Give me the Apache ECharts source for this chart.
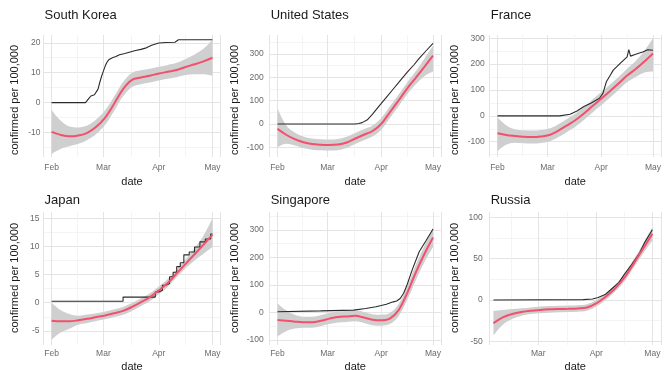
<!DOCTYPE html>
<html><head><meta charset="utf-8">
<script src="https://cdn.jsdelivr.net/npm/echarts@6/dist/echarts.min.js"></script>
<style>html,body{margin:0;padding:0;background:#fff}#c{width:672px;height:370px}</style>
</head><body><div id="c"></div>
<script>
// ---------------- DATA ----------------
const countries = ['South Korea', 'United States', 'France', 'Japan', 'Singapore', 'Russia'];
const fitDates = ['2020-02-01','2020-02-06','2020-02-11','2020-02-16','2020-02-21','2020-02-26','2020-03-02','2020-03-07','2020-03-12','2020-03-17','2020-03-22','2020-03-27','2020-04-01','2020-04-06','2020-04-11','2020-04-16','2020-04-21','2020-04-26','2020-05-01'];
const fitDatesRussia = ['2020-02-06','2020-02-11','2020-02-16','2020-02-21','2020-02-26','2020-03-02','2020-03-07','2020-03-12','2020-03-17','2020-03-22','2020-03-27','2020-04-01','2020-04-06','2020-04-11','2020-04-16','2020-04-21','2020-04-26','2020-05-01'];

const skFit   = [-9.8,-10.8,-11.3,-11.0,-10.1,-8.1,-5.0,-0.4,4.5,7.6,8.4,9.0,9.7,10.3,10.9,11.9,12.8,13.8,15.0];
const skLower = [-17.2,-15.5,-14.6,-13.8,-12.5,-10.5,-7.4,-2.8,2.1,5.2,6.1,6.7,7.4,8.0,8.5,9.2,9.5,9.5,9.0];
const skUpper = [-2.4,-6.0,-8.0,-8.3,-7.7,-5.7,-2.6,2.0,6.9,10.0,10.8,11.3,12.0,12.6,13.3,14.6,16.1,18.0,21.0];
const skActDates = ['2020-02-01','2020-02-20','2020-02-22','2020-02-23','2020-02-25','2020-02-27','2020-02-28','2020-02-29','2020-03-01','2020-03-02','2020-03-03','2020-03-04','2020-03-06','2020-03-08','2020-03-10','2020-03-13','2020-03-16','2020-03-19','2020-03-22','2020-03-25','2020-03-28','2020-04-01','2020-04-05','2020-04-10','2020-04-12','2020-05-01'];
const skAct = [0,0,1.5,2.2,2.6,4.5,6.8,8.8,10.5,12.2,13.5,14.3,15.0,15.4,16.0,16.4,16.9,17.4,17.8,18.3,19.2,19.9,20.1,20.2,21.0,21.0];

const usFit   = [-21,-46,-65,-78,-86,-89,-90,-88,-79,-62,-46,-30,0,50,100,152,198,245,293];
const usLower = [-100,-85,-92,-103,-110,-113,-114,-112,-103,-86,-70,-54,-25,25,75,126,170,205,225];
const usUpper = [68,-5,-36,-53,-62,-65,-66,-64,-55,-38,-22,-6,25,75,125,178,226,280,335];
const usActDates = ['2020-02-01','2020-03-17','2020-03-19','2020-03-21','2020-03-24','2020-03-27','2020-03-31','2020-04-04','2020-04-08','2020-04-12','2020-04-16','2020-04-20','2020-04-23','2020-04-27','2020-05-01'];
const usAct = [0,0,2,6,18,42,79,114,150,186,221,254,281,314,346];

const frFit   = [-67,-74,-78,-81,-82,-80,-74,-58,-38,-17,9,38,66,95,125,156,181,210,241];
const frLower = [-137,-112,-104,-106,-107,-105,-99,-83,-63,-42,-16,13,41,70,100,130,150,168,172];
const frUpper = [-5,-36,-52,-56,-57,-55,-49,-33,-13,8,34,63,91,120,150,182,212,252,300];
const frActDates = ['2020-02-01','2020-03-08','2020-03-14','2020-03-18','2020-03-22','2020-03-26','2020-03-31','2020-04-02','2020-04-04','2020-04-06','2020-04-08','2020-04-12','2020-04-16','2020-04-17','2020-04-18','2020-04-21','2020-04-25','2020-04-28','2020-05-01'];
const frAct = [0,0,6,19,36,49,68,87,132,154,177,203,228,256,231,238,247,256,254];

const jpFit   = [-3.2,-3.3,-3.3,-3.1,-2.85,-2.55,-2.25,-1.85,-1.45,-0.75,0.1,1.0,2.2,3.5,5.2,6.9,8.6,10.3,12.1];
const jpLower = [-6.6,-5.3,-4.6,-3.9,-3.6,-3.25,-2.95,-2.55,-2.15,-1.45,-0.6,0.3,1.5,2.8,4.5,6.1,7.5,8.7,9.9];
const jpUpper = [0.0,-1.3,-2.0,-2.3,-2.1,-1.85,-1.55,-1.15,-0.75,-0.05,0.8,1.7,2.9,4.2,5.9,7.7,9.7,11.9,15.0];
const jpActDates = ['2020-02-01','2020-03-12','2020-03-30','2020-04-01','2020-04-03','2020-04-05','2020-04-07','2020-04-09','2020-04-11','2020-04-13','2020-04-15','2020-04-18','2020-04-21','2020-04-24','2020-04-27','2020-04-30','2020-05-01'];
const jpAct = [0.25,1.0,1.9,2.2,3.1,3.4,4.6,5.4,6.4,7.1,8.5,9.0,9.9,10.8,11.3,12.2,12.3];

const sgFit   = [-28,-31,-34,-36,-36,-31,-23,-17,-15,-13,-19,-27,-29,-23,7,69,144,212,272];
const sgLower = [-88,-69,-59,-56,-56,-51,-43,-37,-35,-33,-39,-47,-49,-43,-15,44,116,182,237];
const sgUpper = [32,7,-9,-16,-16,-11,-3,3,5,7,1,-7,-9,-3,29,94,172,242,307];
const sgActDates = ['2020-02-01','2020-02-26','2020-03-16','2020-03-23','2020-03-29','2020-04-04','2020-04-08','2020-04-10','2020-04-12','2020-04-14','2020-04-16','2020-04-19','2020-04-23','2020-04-27','2020-05-01'];
const sgAct = [2,5,8,14,20,29,38,41,50,69,100,155,220,261,303];

const ruFit   = [-28,-21,-17,-14.5,-13,-12,-11.3,-10.9,-10.6,-10.2,-9,-4,4,14,27,44,62,80];
const ruLower = [-43,-30,-23,-19,-17,-16,-15.3,-14.9,-14.6,-14.2,-13,-8,0,10,22.5,39,56,72];
const ruUpper = [-13,-12,-11,-10,-9,-8,-7.3,-6.9,-6.6,-6.2,-5,0,8,18,31.5,49,68,88];
const ruActDates = ['2020-02-06','2020-03-25','2020-03-30','2020-04-02','2020-04-06','2020-04-09','2020-04-13','2020-04-16','2020-04-20','2020-04-24','2020-04-27','2020-05-01'];
const ruAct = [0,0.5,1.2,3,7,13,21,31,43,56,70,85];

const monthLabels = ['Jan','Feb','Mar','Apr','May','Jun','Jul','Aug','Sep','Oct','Nov','Dec'];
const monthMinorTicks = ['2020-02-15 12:00','2020-03-16 12:00','2020-04-16 00:00'];

const skTicks = [-10,0,10,20],        skMinor = [-15,-5,5,15];
const usTicks = [-100,0,100,200,300], usMinor = [-50,50,150,250,350];
const frTicks = [-100,0,100,200,300], frMinor = [-150,-50,50,150,250];
const jpTicks = [-5,0,5,10,15],       jpMinor = [-2.5,2.5,7.5,12.5];
const sgTicks = [-100,0,100,200,300], sgMinor = [-50,50,150,250,350];
const ruTicks = [-50,0,50,100],       ruMinor = [-25,25,75];

const yTitle = 'confirmed per 100,000';
const xTitle = 'date';

// ---------------- LAYOUT / STYLE ----------------
function P(s) { // local time, same as ECharts' own date parsing
  const m = s.match(/^(\d{4})-(\d{2})-(\d{2})(?:[ T](\d{2}):(\d{2}))?/);
  return new Date(+m[1], +m[2] - 1, +m[3], m[4] ? +m[4] : 0, m[5] ? +m[5] : 0).getTime();
}
const FONT = "'Liberation Sans', Arial, Helvetica, sans-serif";
const panels = [
  {d:[fitDates,skFit,skLower,skUpper,skActDates,skAct], ticks:skTicks, minor:skMinor, left:43.5, right:220.5, top:35, bottom:157, xmin:'2020-01-27 12:00', xmax:'2020-05-05 12:00', ymin:-18.2, ymax:22.6, lm:3, step:false},
  {d:[fitDates,usFit,usLower,usUpper,usActDates,usAct], ticks:usTicks, minor:usMinor, left:269.7, right:440.8, top:35, bottom:157, xmin:'2020-01-27 12:00', xmax:'2020-05-05 12:00', ymin:-141.4, ymax:381.5, lm:6, step:false},
  {d:[fitDates,frFit,frLower,frUpper,frActDates,frAct], ticks:frTicks, minor:frMinor, left:489.7, right:660.8, top:35, bottom:157, xmin:'2020-01-27 12:00', xmax:'2020-05-05 12:00', ymin:-159.2, ymax:312.8, lm:5, step:false},
  {d:[fitDates,jpFit,jpLower,jpUpper,jpActDates,jpAct], ticks:jpTicks, minor:jpMinor, left:43.5, right:220.5, top:212, bottom:345, xmin:'2020-01-27 12:00', xmax:'2020-05-05 12:00', ymin:-7.5, ymax:16.1, lm:4, step:true},
  {d:[fitDates,sgFit,sgLower,sgUpper,sgActDates,sgAct], ticks:sgTicks, minor:sgMinor, left:269.7, right:440.8, top:212, bottom:345, xmin:'2020-01-27 12:00', xmax:'2020-05-05 12:00', ymin:-118.9, ymax:364.6, lm:6, step:false},
  {d:[fitDatesRussia,ruFit,ruLower,ruUpper,ruActDates,ruAct], ticks:ruTicks, minor:ruMinor, left:489.7, right:660.8, top:212, bottom:345, xmin:'2020-02-04 00:00', xmax:'2020-05-05 12:00', ymin:-54.4, ymax:106.4, lm:7, step:false}
];

const grid = [], xAxis = [], yAxis = [], series = [], graphic = [];
const minorVals = monthMinorTicks.map(P);
const labelStyle = {fontFamily: FONT, fontSize: 8.5, color: '#6a6a6a'};
const DAY = 86400000;

panels.forEach((p, i) => {
  grid.push({left: p.left, top: p.top, width: p.right - p.left, height: p.bottom - p.top});
  const rowBottomMargin = p.top < 100 ? 6 : 4;
  xAxis.push({
    type: 'time', gridIndex: i, min: P(p.xmin), max: P(p.xmax),
    splitNumber: 3, minInterval: 27 * DAY, maxInterval: 32 * DAY,
    axisLine: {show: false}, axisTick: {show: false},
    minorTick: {show: false}, minorSplitLine: {show: false},
    axisLabel: Object.assign({margin: rowBottomMargin, hideOverlap: false, showMinLabel: false, showMaxLabel: false,
      formatter: v => monthLabels[new Date(v).getMonth()]}, labelStyle),
    splitLine: {show: true, lineStyle: {color: '#e4e4e4', width: 1}}
  });
  xAxis.push({
    type: 'value', gridIndex: i, min: P(p.xmin), max: P(p.xmax),
    axisLine: {show: false}, axisTick: {show: false, customValues: minorVals},
    axisLabel: {show: false, customValues: minorVals},
    splitLine: {show: true, lineStyle: {color: '#f1f1f1', width: 0.8}}
  });
  yAxis.push({
    type: 'value', gridIndex: i, min: p.ymin, max: p.ymax, position: 'left',
    axisLine: {show: false}, axisTick: {show: false, customValues: p.ticks},
    axisLabel: Object.assign({customValues: p.ticks, margin: p.lm}, labelStyle),
    splitLine: {show: true, lineStyle: {color: '#e4e4e4', width: 1}}
  });
  yAxis.push({
    type: 'value', gridIndex: i, min: p.ymin, max: p.ymax, position: 'left',
    axisLine: {show: false}, axisTick: {show: false, customValues: p.minor},
    axisLabel: {show: false, customValues: p.minor},
    splitLine: {show: true, lineStyle: {color: '#f1f1f1', width: 0.8}}
  });

  const [fd, fit, lo, up, ad, act] = p.d;
  const common = {type: 'line', xAxisIndex: 2*i, yAxisIndex: 2*i, symbol: 'none', silent: true, animation: false};
  series.push(Object.assign({}, common, {
    data: fd.map((d, j) => [d, lo[j]]), stack: 'band' + i, stackStrategy: 'all', smooth: 0.35,
    lineStyle: {opacity: 0}
  }));
  series.push(Object.assign({}, common, {
    data: fd.map((d, j) => [d, up[j] - lo[j]]), stack: 'band' + i, stackStrategy: 'all', smooth: 0.35,
    lineStyle: {opacity: 0}, areaStyle: {color: '#cfcfcf', opacity: 1}
  }));
  series.push(Object.assign({}, common, {
    data: ad.map((d, j) => [d, act[j]]), step: p.step ? 'end' : false,
    lineStyle: {color: '#2b2b2b', width: 1.1}
  }));
  series.push(Object.assign({}, common, {
    data: fd.map((d, j) => [d, fit[j]]), smooth: 0.35,
    lineStyle: {color: '#f2506c', width: 2}
  }));

  const rowTop = p.top < 100 ? 0 : 185;
  graphic.push({type: 'text', left: p.left + 1, top: rowTop + 9,
    style: {text: countries[i], fontFamily: FONT, fontSize: 13, fill: '#1a1a1a'}});
  graphic.push({type: 'text', x: p.left - (i % 3 === 0 ? 28.5 : 34.7), y: rowTop + (p.top < 100 ? 100 : 93), rotation: Math.PI / 2,
    style: {text: yTitle, fontFamily: FONT, fontSize: 11, fill: '#1a1a1a', align: 'center', verticalAlign: 'middle'}});
  graphic.push({type: 'text', x: (p.left + p.right) / 2, y: p.top < 100 ? 182 : 367,
    style: {text: xTitle, fontFamily: FONT, fontSize: 11, fill: '#1a1a1a', align: 'center', verticalAlign: 'middle'}});
});

const chart = echarts.init(document.getElementById('c'), null, {renderer: 'canvas'});
chart.setOption({
  animation: false,
  backgroundColor: '#ffffff',
  grid, xAxis, yAxis, series, graphic
});
</script>
</body></html>
